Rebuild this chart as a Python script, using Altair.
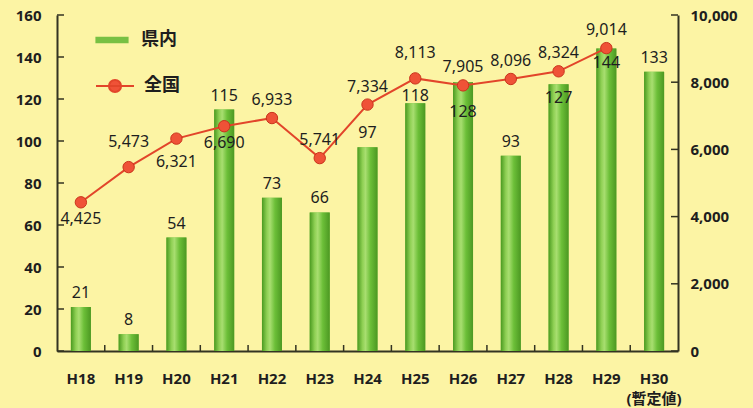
import altair as alt
import pandas as pd

years = ["H18", "H19", "H20", "H21", "H22", "H23", "H24", "H25", "H26", "H27", "H28", "H29", "H30"]
pref_counts = [21, 8, 54, 115, 73, 66, 97, 118, 128, 93, 127, 144, 133]
nation_counts = [4425, 5473, 6321, 6690, 6933, 5741, 7334, 8113, 7905, 8096, 8324, 9014, None]
left_ticks = [0, 20, 40, 60, 80, 100, 120, 140, 160]
right_ticks = [0, 2000, 4000, 6000, 8000, 10000]

df = pd.DataFrame({"year": years, "pref": pref_counts, "nation": nation_counts})
df["s_bar"] = "県内"
df["s_line"] = "全国"
lt_df = pd.DataFrame({"pref": left_ticks})
rt_df = pd.DataFrame({"nation": right_ticks})
xt_df = pd.DataFrame({"year": years[1:]})

FONT = "Noto Sans, Noto Sans CJK JP"
TXT = "#1e1e1e"
AX = "#333322"
GREEN = "#78c043"
RED = "#e2452a"
W, H = 621, 336
LBL = 16

x_enc = alt.X(
    "year:N", sort=years,
    scale=alt.Scale(paddingInner=0, paddingOuter=0),
    axis=alt.Axis(
        title=None, labelAngle=0, ticks=False, tickSize=0, grid=False,
        domainColor=AX, domainWidth=2, labelPadding=20,
        labelFont=FONT, labelFontSize=15, labelFontWeight="bold", labelColor=TXT,
        labelLineHeight=20,
        labelExpr="datum.value == 'H30' ? ['H30', '(暫定値)'] : datum.value",
    ),
)

left_scale = alt.Scale(domain=[0, 160], nice=False)
right_scale = alt.Scale(domain=[0, 10000], nice=False)

y_left = alt.Y(
    "pref:Q", scale=left_scale,
    axis=alt.Axis(
        title=None, values=left_ticks, ticks=False, tickSize=0, labelPadding=16, grid=False,
        domainColor=AX, domainWidth=2,
        labelFont=FONT, labelFontSize=15, labelFontWeight="bold", labelColor=TXT,
    ),
)

y_right = alt.Y(
    "nation:Q", scale=right_scale,
    axis=alt.Axis(
        title=None, orient="right", values=right_ticks, ticks=False, tickSize=0,
        labelExpr="format(datum.value, ',')",
        labelPadding=12, grid=False, domainColor=AX, domainWidth=2,
        labelFont=FONT, labelFontSize=15, labelFontWeight="bold", labelColor=TXT,
    ),
)

grad = alt.Gradient(
    gradient="linear", x1=0, x2=1, y1=0, y2=0,
    stops=[
        alt.GradientStop(color="#4a9a20", offset=0),
        alt.GradientStop(color="#8fd054", offset=0.25),
        alt.GradientStop(color="#a8de70", offset=0.4),
        alt.GradientStop(color="#6cbf38", offset=0.65),
        alt.GradientStop(color="#4c9822", offset=1),
    ],
)

base = alt.Chart(df)

bars_legend = base.mark_bar(size=20).encode(
    x=x_enc, y=y_left,
    color=alt.Color(
        "s_bar:N", scale=alt.Scale(domain=["県内"], range=[GREEN]),
        legend=alt.Legend(
            title=None, orient="none", legendX=38, legendY=8, padding=0,
            symbolType="M-1,-0.2H1V0.2H-1Z", symbolSize=1100, symbolStrokeWidth=0,
            labelFont=FONT, labelFontSize=18, labelFontWeight="bold", labelColor=TXT,
            labelOffset=12,
        ),
    ),
)
bars = base.mark_bar(size=20, color=grad).encode(x=x_enc, y=y_left)

left_tick_marks = alt.Chart(lt_df).mark_rule(color=AX, strokeWidth=1.5).encode(
    y=alt.Y("pref:Q", scale=left_scale), x=alt.value(0), x2=alt.value(7)
)
x_tick_marks = alt.Chart(xt_df).mark_rule(color=AX, strokeWidth=1.5).encode(
    x=alt.X("year:N", sort=years, bandPosition=0), y=alt.value(H), y2=alt.value(H - 6)
)


def bar_text(cats, dy):
    return base.transform_filter(
        alt.FieldOneOfPredicate(field="year", oneOf=cats)
    ).mark_text(dy=dy, baseline="alphabetic", font=FONT, fontSize=LBL, color=TXT).encode(
        x=x_enc, y=y_left, text=alt.Text("pref:Q")
    )


above_bar = [y for y in years if y not in ("H25", "H26", "H28", "H29")]
bar_layer = alt.layer(
    bars_legend, bars, left_tick_marks, x_tick_marks,
    bar_text(above_bar, -9),
    bar_text(["H25"], -2),
    bar_text(["H28", "H29"], 19),
    bar_text(["H26"], 35),
)

ldf = base.transform_filter("isValid(datum.nation)")
line = ldf.mark_line(strokeWidth=2).encode(
    x=x_enc, y=y_right,
    stroke=alt.Stroke(
        "s_line:N", scale=alt.Scale(domain=["全国"], range=[RED]),
        legend=alt.Legend(
            title=None, orient="none", legendX=38, legendY=51, padding=0,
            symbolType="M-1,0H1M-0.32,0A0.32,0.32 0 1,0 0.32,0A0.32,0.32 0 1,0 -0.32,0",
            symbolSize=1444, symbolStrokeWidth=2, symbolFillColor="#ef5237",
            labelFont=FONT, labelFontSize=18, labelFontWeight="bold", labelColor=TXT,
            labelOffset=9,
        ),
    ),
)
points = ldf.mark_point(filled=True, size=130, color="#ef5237", stroke="#c9341c",
                        strokeWidth=1, opacity=1).encode(x=x_enc, y=y_right)

right_tick_marks = alt.Chart(rt_df).mark_rule(color=AX, strokeWidth=1.5).encode(
    y=alt.Y("nation:Q", scale=right_scale), x=alt.value(W), x2=alt.value(W - 7)
)


def line_text(cats, dy):
    return ldf.transform_filter(
        alt.FieldOneOfPredicate(field="year", oneOf=cats)
    ).mark_text(dy=dy, baseline="alphabetic", font=FONT, fontSize=LBL, color=TXT).encode(
        x=x_enc, y=y_right, text=alt.Text("nation:Q", format=",")
    )


line_layer = alt.layer(
    right_tick_marks, line, points,
    line_text(["H22", "H23", "H24", "H26", "H27", "H28", "H29"], -13),
    line_text(["H19", "H25"], -20),
    line_text(["H18", "H21"], 22),
    line_text(["H20"], 28),
)

chart = alt.layer(bar_layer, line_layer).resolve_scale(
    y="independent", color="independent", stroke="independent"
).properties(
    width=W, height=H,
    autosize=alt.AutoSizeParams(type="none"),
    padding={"left": 57, "top": 15, "right": 75, "bottom": 57},
    background="#fcf4a4",
).configure_view(strokeWidth=0)

chart.save("out.html", embed_options={"renderer": "svg", "actions": False})
